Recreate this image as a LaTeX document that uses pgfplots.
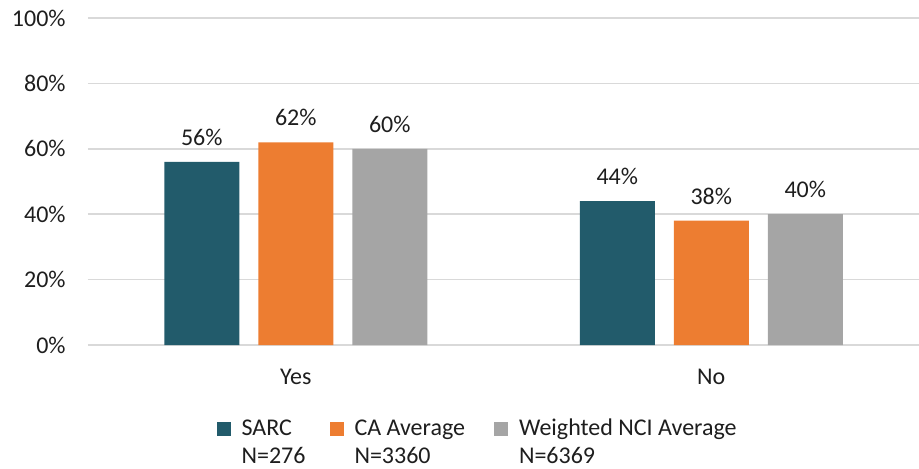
\documentclass[border=0pt,12pt]{standalone}
\usepackage{fontspec}
\setmainfont{Carlito}
\usepackage{pgfplots}
\pgfplotsset{compat=1.18}

\definecolor{sarcteal}{RGB}{34,91,107}
\definecolor{caorange}{RGB}{237,125,49}
\definecolor{ncigray}{RGB}{165,165,165}
\definecolor{gridgray}{RGB}{217,217,217}
\definecolor{textdark}{RGB}{30,30,30}

\newcommand{\twoline}[2]{\begin{tabular}[t]{@{}l@{}}#1\\[-0.5pt]#2\end{tabular}}

\begin{document}
\begin{tikzpicture}
\begin{axis}[
  at={(0pt,0pt)}, anchor=south west,
  scale only axis,
  width=415.5pt, height=163.5pt,
  ybar=9.5pt, bar width=37.5pt,
  xmin=-0.5, xmax=1.5,
  ymin=0, ymax=100,
  xtick=data, xticklabels={Yes,No},
  ytick={0,20,40,60,80,100},
  yticklabels={0\%,20\%,40\%,60\%,80\%,100\%},
  xticklabel style={yshift=-8pt},
  yticklabel style={xshift=-7pt},
  major tick length=0pt,
  axis line style={draw=none},
  ymajorgrids, grid style={gridgray, line width=0.8pt},
  tick label style={text=textdark},
  nodes near coords={\pgfmathprintnumber{\pgfplotspointmeta}\%},
  nodes near coords style={text=textdark, yshift=4pt},
  /pgf/number format/assume math mode=true,
  legend image code/.code={\fill[#1] (0pt,0pt) rectangle (7pt,7pt);},
  legend style={at={(0.47,-0.19)}, anchor=north, draw=none,
    legend columns=-1, column sep=3.5pt,
    cells={anchor=base west}, text=textdark},
]
\addplot[fill=sarcteal, draw=none] coordinates {(0,56) (1,44)};
\addlegendentry{\twoline{SARC}{N=276}\kern6.5pt}
\addplot[fill=caorange, draw=none] coordinates {(0,62) (1,38)};
\addlegendentry{\twoline{CA Average}{N=3360}\kern9pt}
\addplot[fill=ncigray, draw=none] coordinates {(0,60) (1,40)};
\addlegendentry{\twoline{Weighted NCI Average}{N=6369}}
\end{axis}
\pgfresetboundingbox
\path (-44pt,-61.5pt) rectangle (415.5pt,172.5pt);
\end{tikzpicture}
\end{document}
